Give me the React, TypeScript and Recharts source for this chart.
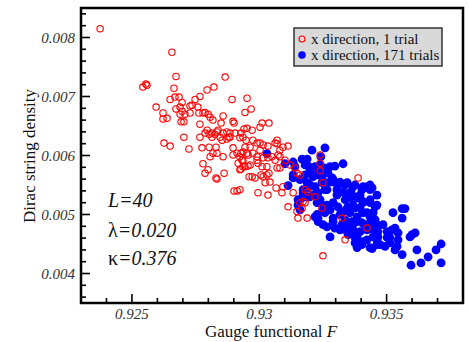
import React from 'react';
import { ScatterChart, Scatter, XAxis, YAxis, ReferenceArea } from 'recharts';

const FONT = '"Liberation Serif", "Times New Roman", Times, serif';

const X_DOMAIN: [number, number] = [0.923, 0.938];
const Y_DOMAIN: [number, number] = [0.0035, 0.0085];

const xTicks = [0.924, 0.925, 0.926, 0.927, 0.928, 0.929, 0.93, 0.931, 0.932, 0.933, 0.934, 0.935, 0.936, 0.937];
const xMajorTicks = [0.925, 0.93, 0.935];
const yTicks = [0.0036, 0.0038, 0.004, 0.0042, 0.0044, 0.0046, 0.0048, 0.005, 0.0052, 0.0054, 0.0056, 0.0058, 0.006, 0.0062, 0.0064, 0.0066, 0.0068, 0.007, 0.0072, 0.0074, 0.0076, 0.0078, 0.008, 0.0082, 0.0084];
const yMajorTicks = [0.004, 0.005, 0.006, 0.007, 0.008];

const seriesNames = ['x direction, 1 trial', 'x direction, 171 trials'];
const annotations = ['L=40', 'λ=0.020', 'κ=0.376'];
const xTitle = 'Gauge functional ';
const xTitleVar = 'F';
const yTitle = 'Dirac string density';

// x direction, 1 trial (red open circles)
const redPoints: [number, number][] = [
  [0.92375, 0.00815], [0.92657, 0.00775], [0.92543, 0.00716], [0.92555, 0.00721], [0.92559, 0.00719],
  [0.92673, 0.00734], [0.92665, 0.00714], [0.92866, 0.00733], [0.92595, 0.00682], [0.9265, 0.00695],
  [0.92669, 0.00699], [0.92685, 0.00699], [0.92622, 0.00672], [0.92622, 0.00662], [0.92638, 0.00663],
  [0.92673, 0.00679], [0.92697, 0.0069], [0.92689, 0.00682], [0.92697, 0.00675], [0.92689, 0.0067],
  [0.92708, 0.0067], [0.92728, 0.00684], [0.92736, 0.00685], [0.92748, 0.00695], [0.92767, 0.007],
  [0.92759, 0.00682], [0.92763, 0.00672], [0.92779, 0.00672], [0.92787, 0.00673], [0.92728, 0.00672],
  [0.92795, 0.00711], [0.92822, 0.00716], [0.92893, 0.00695], [0.92693, 0.00657], [0.92704, 0.00657],
  [0.92767, 0.00653], [0.92799, 0.0067], [0.92704, 0.00631], [0.92626, 0.00621], [0.9265, 0.00616],
  [0.92724, 0.00611], [0.92775, 0.00613], [0.92803, 0.00614], [0.92787, 0.00638], [0.92807, 0.00665],
  [0.92818, 0.0066], [0.92767, 0.00631], [0.92795, 0.00643], [0.92803, 0.00636], [0.92814, 0.00638],
  [0.92826, 0.00636], [0.92834, 0.0064], [0.92846, 0.00631], [0.92858, 0.00638], [0.92873, 0.0064],
  [0.92885, 0.00638], [0.92838, 0.00643], [0.9285, 0.00655], [0.92858, 0.00667], [0.92901, 0.00655],
  [0.92905, 0.00638], [0.92897, 0.00613], [0.92881, 0.00631], [0.92854, 0.00626], [0.9283, 0.00614],
  [0.92807, 0.00598], [0.92779, 0.00586], [0.92858, 0.00598], [0.92834, 0.00604], [0.92799, 0.00576],
  [0.92787, 0.0057], [0.92818, 0.00604], [0.92897, 0.00601], [0.92913, 0.00604], [0.92917, 0.00587],
  [0.92924, 0.00576], [0.9283, 0.00562], [0.92862, 0.0057], [0.92952, 0.00697], [0.92944, 0.00673],
  [0.92814, 0.00631], [0.92873, 0.00628], [0.92928, 0.00638], [0.9294, 0.00645], [0.92952, 0.00646],
  [0.92936, 0.00631], [0.92948, 0.00626], [0.92932, 0.00592], [0.92944, 0.00614], [0.92952, 0.00604],
  [0.92901, 0.0054], [0.92913, 0.0054], [0.92928, 0.00577], [0.92944, 0.00581], [0.9296, 0.00564],
  [0.92834, 0.0056], [0.92897, 0.00658], [0.92968, 0.00679], [0.93011, 0.00655], [0.93003, 0.00648],
  [0.93038, 0.00655], [0.92972, 0.00643], [0.92975, 0.00626], [0.93003, 0.00621], [0.93015, 0.00618],
  [0.9307, 0.00626], [0.9307, 0.0062], [0.93034, 0.00616], [0.92936, 0.00606], [0.92956, 0.00601],
  [0.92975, 0.00604], [0.92991, 0.00598], [0.92995, 0.00587], [0.93015, 0.00596], [0.93034, 0.00596],
  [0.9305, 0.00598], [0.93074, 0.00601], [0.93081, 0.00609], [0.93093, 0.00614], [0.93113, 0.00616],
  [0.92964, 0.00584], [0.93011, 0.00581], [0.93038, 0.0057], [0.9307, 0.00579], [0.92972, 0.00564],
  [0.93239, 0.00601], [0.93239, 0.00587], [0.93388, 0.00562], [0.93148, 0.0057], [0.9314, 0.00579],
  [0.92983, 0.00562], [0.93007, 0.00567], [0.93015, 0.00564], [0.9303, 0.00567], [0.93023, 0.00554],
  [0.93042, 0.00555], [0.92995, 0.00537], [0.93034, 0.00533], [0.93066, 0.00545], [0.93089, 0.00537],
  [0.93093, 0.00547], [0.93133, 0.00537], [0.93113, 0.00513], [0.93148, 0.00505], [0.93168, 0.0051],
  [0.93152, 0.00494], [0.93188, 0.00494], [0.9316, 0.0052], [0.9318, 0.0052], [0.9325, 0.0043],
  [0.93337, 0.00457], [0.93423, 0.00477], [0.93325, 0.00494], [0.92924, 0.00542], [0.92936, 0.00581],
  [0.92956, 0.00582], [0.93081, 0.00579], [0.92964, 0.00614], [0.92991, 0.00621], [0.93003, 0.00609],
  [0.93062, 0.00621], [0.93101, 0.00592], [0.93081, 0.00598], [0.93062, 0.00592], [0.92991, 0.00592],
  [0.92936, 0.00592], [0.92924, 0.0063], [0.9303, 0.00581], [0.93121, 0.00584], [0.93239, 0.00574],
  [0.9325, 0.00554], [0.9318, 0.00542], [0.93191, 0.00538], [0.9316, 0.00567], [0.93172, 0.00522],
  [0.93246, 0.00511], [0.93219, 0.0053], [0.92885, 0.00631], [0.92928, 0.00604], [0.92924, 0.00598],
];

// x direction, 171 trials (blue filled circles)
const bluePoints: [number, number][] = [
  [0.9303, 0.00603], [0.93207, 0.00609], [0.93258, 0.00613], [0.93242, 0.00598], [0.93168, 0.00594],
  [0.93188, 0.00594], [0.93101, 0.00586], [0.93133, 0.00589], [0.9318, 0.00584], [0.93195, 0.00581],
  [0.93239, 0.00584], [0.93254, 0.00579], [0.93278, 0.00581], [0.93297, 0.00582], [0.93329, 0.00586],
  [0.93133, 0.00567], [0.93211, 0.00564], [0.93246, 0.00564], [0.9327, 0.0057], [0.93286, 0.00562],
  [0.93113, 0.00549], [0.9316, 0.00559], [0.93188, 0.00554], [0.93219, 0.00547], [0.93199, 0.0053],
  [0.93231, 0.00537], [0.93239, 0.00525], [0.93258, 0.00542], [0.9327, 0.00554], [0.9329, 0.00555],
  [0.93309, 0.0055], [0.93337, 0.0055], [0.9336, 0.00538], [0.93376, 0.0055], [0.93384, 0.0053],
  [0.93403, 0.00542], [0.93423, 0.00547], [0.93435, 0.0055], [0.93462, 0.00533], [0.93337, 0.00525],
  [0.93349, 0.00513], [0.93376, 0.00511], [0.93407, 0.0052], [0.93435, 0.0052], [0.93455, 0.00513],
  [0.93329, 0.00505], [0.93356, 0.00503], [0.93384, 0.00496], [0.93407, 0.00503], [0.93435, 0.00496],
  [0.93455, 0.00491], [0.93486, 0.00483], [0.93521, 0.00474], [0.93525, 0.00503], [0.93561, 0.0051],
  [0.93572, 0.0051], [0.93561, 0.00494], [0.936, 0.00466], [0.93612, 0.00469], [0.93619, 0.0044],
  [0.93596, 0.00414], [0.93635, 0.00418], [0.93663, 0.00428], [0.93694, 0.0044], [0.93714, 0.0045],
  [0.93714, 0.00418], [0.93561, 0.00432], [0.93541, 0.00446], [0.93545, 0.00457], [0.93513, 0.00461],
  [0.93494, 0.00446], [0.93474, 0.00449], [0.93443, 0.00442], [0.93384, 0.00444], [0.93376, 0.00452],
  [0.93403, 0.00449], [0.93447, 0.00462], [0.93423, 0.00457], [0.93278, 0.00462], [0.93266, 0.00479],
  [0.93231, 0.00494], [0.93227, 0.005], [0.9325, 0.00508], [0.93278, 0.00508], [0.9329, 0.0052],
  [0.93309, 0.00513], [0.93305, 0.00533], [0.9329, 0.00488], [0.93325, 0.00483], [0.93349, 0.00483],
  [0.93368, 0.00474], [0.93396, 0.00471], [0.93423, 0.00474], [0.93345, 0.00471], [0.93384, 0.00462],
  [0.93337, 0.00491], [0.93376, 0.00486], [0.93403, 0.00486], [0.93435, 0.00486], [0.93462, 0.00483],
  [0.93466, 0.00471], [0.93168, 0.00528], [0.93152, 0.00516], [0.93239, 0.0052], [0.93191, 0.00545],
  [0.93172, 0.00537], [0.93443, 0.00545], [0.93447, 0.00503], [0.93447, 0.00474], [0.93462, 0.00457],
  [0.93502, 0.00471], [0.93533, 0.00477], [0.93545, 0.00469], [0.93502, 0.00461], [0.93513, 0.00452],
  [0.93533, 0.0044], [0.93592, 0.00462], [0.93219, 0.00581], [0.93239, 0.00576], [0.9325, 0.0057],
  [0.93227, 0.00567], [0.9329, 0.00559], [0.93317, 0.00555], [0.93345, 0.00554], [0.93368, 0.00547],
  [0.93407, 0.00547], [0.93435, 0.00542], [0.93199, 0.0055], [0.93246, 0.00554], [0.93266, 0.00542],
  [0.93305, 0.00542], [0.93329, 0.00538], [0.93356, 0.00537], [0.93396, 0.00533], [0.93172, 0.00542],
  [0.93188, 0.0053], [0.93211, 0.00533], [0.93266, 0.00516], [0.93258, 0.00503], [0.93231, 0.00488],
  [0.9325, 0.00483], [0.9329, 0.00494], [0.93317, 0.005], [0.93297, 0.00477], [0.93345, 0.00511],
  [0.93368, 0.00516], [0.93356, 0.00528], [0.93384, 0.00528], [0.93407, 0.00522], [0.93435, 0.00525],
  [0.93462, 0.00516], [0.93396, 0.00511], [0.93423, 0.00503], [0.93447, 0.00494], [0.93364, 0.00488],
  [0.93415, 0.00483], [0.93356, 0.00477], [0.93376, 0.00461], [0.93407, 0.00454], [0.93435, 0.00444],
  [0.93462, 0.00449], [0.93349, 0.00466], [0.93317, 0.00474], [0.93462, 0.00479], [0.93466, 0.00462],
  [0.9314, 0.00581], [0.93133, 0.00562], [0.93227, 0.0053], [0.93152, 0.00525], [0.9316, 0.00508],
  [0.93219, 0.00496], [0.93227, 0.0052], [0.93199, 0.00572], [0.9318, 0.00567],
];

const redData = redPoints.map(([x, y]) => ({ x, y }));
const blueData = bluePoints.map(([x, y]) => ({ x, y }));

const RED = '#ff0000';
const BLUE = '#0000ff';
const AXIS = '#000000';
const TICK_TEXT = '#333333';

const isMajor = (v: number, majors: number[]) => majors.some((m) => Math.abs(m - v) < 1e-9);
const fmt = (v: number) => String(Number(v.toFixed(6)));

const MAJOR_LEN = 9;
const MINOR_LEN = 5;
const TW = 1.6; // tick thickness

const BottomTick = (props: any) => {
  const x = Number(props.x);
  const y = Number(props.y);
  const v = props.payload.value;
  const major = isMajor(v, xMajorTicks);
  const len = major ? MAJOR_LEN : MINOR_LEN;
  return (
    <g>
      <rect x={x - TW / 2} y={y - len} width={TW} height={len} fill={AXIS} />
      {major && (
        <text x={x} y={y + 16} textAnchor="middle" fontFamily={FONT} fontStyle="italic" fontSize={15} fill={TICK_TEXT}>
          {fmt(v)}
        </text>
      )}
    </g>
  );
};

const TopTick = (props: any) => {
  const x = Number(props.x);
  const y = Number(props.y);
  const len = isMajor(props.payload.value, xMajorTicks) ? MAJOR_LEN : MINOR_LEN;
  return <rect x={x - TW / 2} y={y} width={TW} height={len} fill={AXIS} />;
};

const LeftTick = (props: any) => {
  const x = Number(props.x);
  const y = Number(props.y);
  const v = props.payload.value;
  const major = isMajor(v, yMajorTicks);
  const len = major ? MAJOR_LEN : MINOR_LEN;
  return (
    <g>
      <rect x={x} y={y - TW / 2} width={len} height={TW} fill={AXIS} />
      {major && (
        <text x={x - 6} y={y + 5} textAnchor="end" fontFamily={FONT} fontStyle="italic" fontSize={15} fill={TICK_TEXT}>
          {fmt(v)}
        </text>
      )}
    </g>
  );
};

const RightTick = (props: any) => {
  const x = Number(props.x);
  const y = Number(props.y);
  const len = isMajor(props.payload.value, yMajorTicks) ? MAJOR_LEN : MINOR_LEN;
  return <rect x={x - len} y={y - TW / 2} width={len} height={TW} fill={AXIS} />;
};

const FrameShape = (props: any) => {
  const x = Number(props.x);
  const y = Number(props.y);
  const w = Number(props.width);
  const h = Number(props.height);
  return <rect x={x} y={y} width={w} height={h} fill="none" stroke={AXIS} strokeWidth={2.5} />;
};

const OpenCircle = (props: any) => {
  const { cx, cy } = props;
  if (cx == null || cy == null) return <g />;
  return <circle cx={cx} cy={cy} r={3.2} fill="none" stroke={RED} strokeWidth={1.1} />;
};

const FilledCircle = (props: any) => {
  const { cx, cy } = props;
  if (cx == null || cy == null) return <g />;
  return <circle cx={cx} cy={cy} r={4.4} fill={BLUE} stroke="none" />;
};

const W = 469;
const H = 342;

export default function App() {
  return (
    <div style={{ position: 'absolute', left: 0, top: 0, width: W, height: H, background: '#ffffff' }}>
      <ScatterChart width={W} height={H} margin={{ top: 8, right: 6, bottom: 0, left: 0 }}>
        <XAxis
          xAxisId="b"
          type="number"
          dataKey="x"
          domain={X_DOMAIN}
          allowDataOverflow
          ticks={xTicks}
          interval={0}
          orientation="bottom"
          height={39}
          tickSize={0}
          tickMargin={0}
          tickLine={false}
          axisLine={false}
          tick={<BottomTick />}
        />
        <XAxis
          xAxisId="t"
          type="number"
          dataKey="x"
          domain={X_DOMAIN}
          allowDataOverflow
          ticks={xTicks}
          interval={0}
          orientation="top"
          height={0}
          tickSize={0}
          tickMargin={0}
          tickLine={false}
          axisLine={false}
          tick={<TopTick />}
        />
        <YAxis
          yAxisId="l"
          type="number"
          dataKey="y"
          domain={Y_DOMAIN}
          allowDataOverflow
          ticks={yTicks}
          interval={0}
          orientation="left"
          width={81}
          tickSize={0}
          tickMargin={0}
          tickLine={false}
          axisLine={false}
          tick={<LeftTick />}
        />
        <YAxis
          yAxisId="r"
          type="number"
          dataKey="y"
          domain={Y_DOMAIN}
          allowDataOverflow
          ticks={yTicks}
          interval={0}
          orientation="right"
          width={0}
          tickSize={0}
          tickMargin={0}
          tickLine={false}
          axisLine={false}
          tick={<RightTick />}
        />
        <ReferenceArea
          xAxisId="b"
          yAxisId="l"
          x1={X_DOMAIN[0]}
          x2={X_DOMAIN[1]}
          y1={Y_DOMAIN[0]}
          y2={Y_DOMAIN[1]}
          ifOverflow="visible"
          shape={<FrameShape />}
        />
        <Scatter
          name={seriesNames[1]}
          data={blueData}
          xAxisId="b"
          yAxisId="l"
          shape={<FilledCircle />}
          isAnimationActive={false}
        />
        <Scatter
          name={seriesNames[0]}
          data={redData}
          xAxisId="b"
          yAxisId="l"
          shape={<OpenCircle />}
          isAnimationActive={false}
        />
      </ScatterChart>
      <svg
        width={W}
        height={H}
        style={{ position: 'absolute', left: 0, top: 0, pointerEvents: 'none' }}
      >
        {/* legend */}
        <rect x={294} y={28} width={148} height={38} fill="#d9d9d9" stroke="#333" strokeWidth={1.5} />
        <circle cx={302} cy={39} r={3} fill="none" stroke={RED} strokeWidth={1.1} />
        <text x={311} y={44} fontFamily={FONT} fontSize={15} fill="#111">{seriesNames[0]}</text>
        <circle cx={302} cy={55} r={3.8} fill={BLUE} />
        <text x={311} y={60} fontFamily={FONT} fontSize={15} fill="#111">{seriesNames[1]}</text>

        {/* annotations */}
        <text x={108} y={207} fontFamily={FONT} fontSize={20} fontStyle="italic" fill="#111">{annotations[0]}</text>
        <text x={108} y={237} fontFamily={FONT} fontSize={20} fontStyle="italic" fill="#111">
          <tspan fontStyle="normal">{annotations[1].slice(0, 1)}</tspan>
          {annotations[1].slice(1)}
        </text>
        <text x={108} y={265} fontFamily={FONT} fontSize={20} fontStyle="italic" fill="#111">
          <tspan fontStyle="normal">{annotations[2].slice(0, 1)}</tspan>
          {annotations[2].slice(1)}
        </text>

        {/* axis titles */}
        <text x={271} y={337} textAnchor="middle" fontFamily={FONT} fontSize={17} fill="#111">
          {xTitle}
          <tspan fontStyle="italic">{xTitleVar}</tspan>
        </text>
        <text
          x={35}
          y={156}
          textAnchor="middle"
          fontFamily={FONT}
          fontSize={17}
          fill="#111"
          transform="rotate(-90, 35, 156)"
        >
          {yTitle}
        </text>
      </svg>
    </div>
  );
}
